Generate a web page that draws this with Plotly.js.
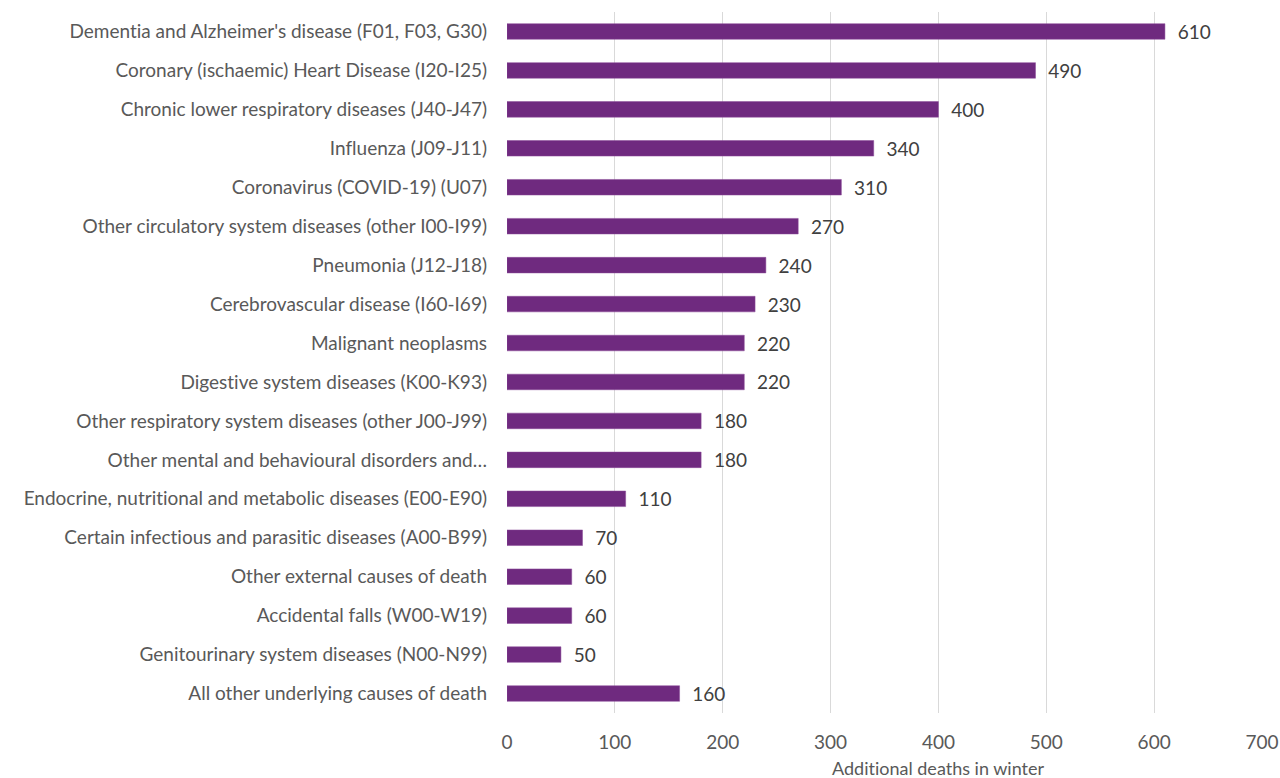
<!DOCTYPE html>
<html>
<head>
<meta charset="utf-8">
<script src="https://cdn.plot.ly/plotly-3.0.1.min.js"></script>
<style>html,body{margin:0;padding:0;background:#fff;}#chart{width:1280px;height:778px;}svg text{font-variant-ligatures:none;font-feature-settings:"liga" 0;}</style>
</head>
<body>
<div id="chart"></div>
<script>
const categories = [
  "Dementia and Alzheimer's disease (F01, F03, G30)",
  "Coronary (ischaemic) Heart Disease (I20-I25)",
  "Chronic lower respiratory diseases (J40-J47)",
  "Influenza (J09-J11)",
  "Coronavirus (COVID-19) (U07)",
  "Other circulatory system diseases (other I00-I99)",
  "Pneumonia (J12-J18)",
  "Cerebrovascular disease (I60-I69)",
  "Malignant neoplasms",
  "Digestive system diseases (K00-K93)",
  "Other respiratory system diseases (other J00-J99)",
  "Other mental and behavioural disorders and…",
  "Endocrine, nutritional and metabolic diseases (E00-E90)",
  "Certain infectious and parasitic diseases (A00-B99)",
  "Other external causes of death",
  "Accidental falls (W00-W19)",
  "Genitourinary system diseases (N00-N99)",
  "All other underlying causes of death"
];
const values = [610, 490, 400, 340, 310, 270, 240, 230, 220, 220, 180, 180, 110, 70, 60, 60, 50, 160];
const xTicks = [0, 100, 200, 300, 400, 500, 600, 700];
const xTitle = "Additional deaths in winter";

const fontFam = "Lato, 'Open Sans', sans-serif";
const fs = 19;
const trace = {
  type: 'bar',
  orientation: 'h',
  y: categories,
  x: values,
  text: values.map(v => '  ' + v),
  textposition: 'outside',
  constraintext: 'none',
  cliponaxis: false,
  textfont: {family: fontFam, size: fs, color: '#404040'},
  marker: {color: '#6f2a7f', line: {color: '#8a4a98', width: 0.5}},
  width: 0.4,
  hoverinfo: 'x+y'
};
const layout = {
  width: 1280, height: 778,
  margin: {l: 507, r: 18, t: 12, b: 65},
  paper_bgcolor: '#fff', plot_bgcolor: '#fff',
  showlegend: false,
  font: {family: fontFam, size: fs, color: '#595959'},
  xaxis: {
    range: [0, 700],
    tickvals: xTicks,
    ticktext: xTicks.map(String),
    showgrid: true, gridcolor: '#d9d9d9', gridwidth: 1,
    zeroline: false, showline: false,
    ticks: '', ticklabelstandoff: 16,
    tickfont: {family: fontFam, size: fs, color: '#595959'}
  },
  yaxis: {
    type: 'category',
    autorange: 'reversed',
    showgrid: false, zeroline: false, showline: false,
    ticks: '', ticklabelstandoff: 19,
    tickfont: {family: fontFam, size: fs, color: '#595959'}
  },
  annotations: [{
    text: xTitle, xref: 'paper', yref: 'paper',
    x: 0.571, y: 0, yshift: -55, xanchor: 'center', yanchor: 'middle',
    showarrow: false,
    font: {family: fontFam, size: 18, color: '#595959'}
  }]
};
Plotly.newPlot('chart', [trace], layout, {displayModeBar: false, staticPlot: true});
</script>
</body>
</html>
